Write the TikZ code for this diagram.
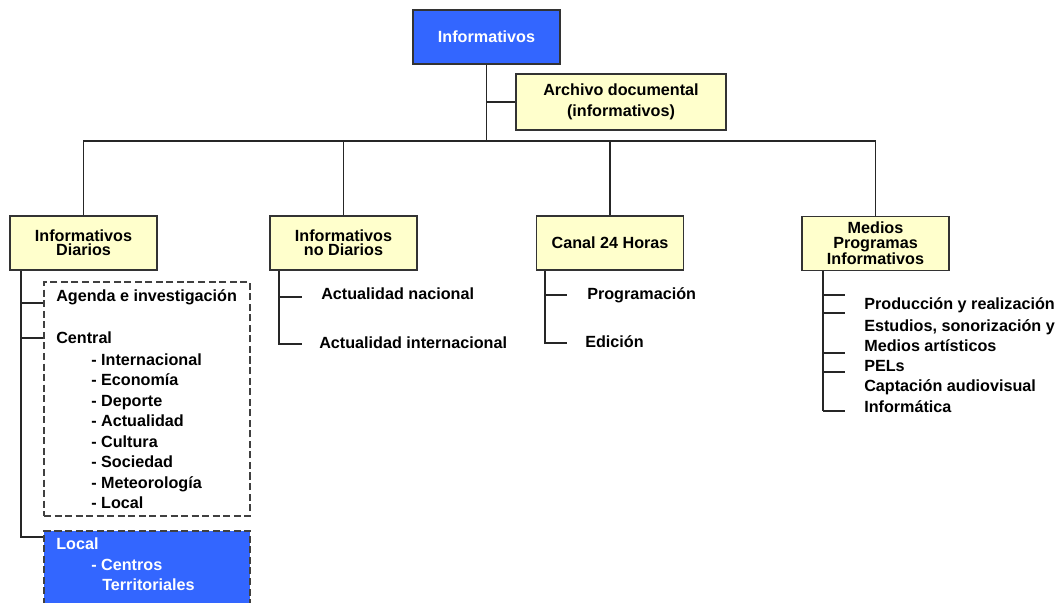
\documentclass[tikz,border=0pt]{standalone}
\usepackage{fontspec}
\setmainfont{Liberation Sans}
\definecolor{azul}{RGB}{51,102,255}
\definecolor{crema}{RGB}{255,255,204}
\tikzset{
  caja/.style={draw=black!80, line width=0.9pt, fill=crema, align=center, inner sep=0pt,
    minimum width=3.675cm, minimum height=1.35cm, font=\bfseries\fontsize{11.5}{10}\selectfont},
  item/.style={anchor=base west, inner sep=0pt, font=\bfseries\fontsize{11.5}{14}\selectfont},
  rama/.style={line width=0.9pt, black!85},
  trazos/.style={draw=black!75, line width=0.9pt, dash pattern=on 5pt off 2.5pt},
}
\begin{document}
\begin{tikzpicture}[x=0.025cm, y=-0.025cm]
    \useasboundingbox (0,0) rectangle (1064,603);
    % cabecera
    \node[caja, fill=azul, text=white] (top) at (486.5,37) {Informativos};
    \node[caja, minimum width=5.25cm, minimum height=1.4cm, font=\bfseries\fontsize{11.5}{15}\selectfont] (arch) at (621,102) {Archivo documental\\(informativos)};
    \node[caja] (diar) at (83.5,243) {Informativos\\Diarios};
    \node[caja] (nodi) at (343.5,243) {Informativos\\no Diarios};
    \node[caja] (c24) at (610,243) {Canal 24 Horas};
    \node[caja, font=\bfseries\fontsize{11.5}{10.2}\selectfont] (medi) at (875.5,243.5) {Medios\\Programas\\Informativos};
    \coordinate (bus) at (0,141);
    \draw[rama] (top.south) -- (top.south |- bus);
    \draw[rama] (top.south |- arch.west) -- (arch.west);
    \draw[rama] (diar.north) -- (diar.north |- bus) -- (medi.north |- bus) -- (medi.north);
    \draw[rama] (nodi.north) -- (nodi.north |- bus);
    \draw[rama] (c24.north) -- (c24.north |- bus);
    % informativos diarios
    \node[trazos, minimum width=5.15cm, minimum height=5.85cm, inner sep=0pt] (agen) at (147,399) {};
    \node[trazos, fill=azul, minimum width=5.15cm, minimum height=2cm, inner sep=0pt] (loca) at (147,571) {};
    \node[item] (ag) at (56,302) {Agenda e investigación};
    \node[item] (ce) at (56,343) {Central};
    \foreach \t [count=\i] in {Internacional,Economía,Deporte,Actualidad,Cultura,Sociedad,Meteorología,Local}
        \node[item] (ce\i) at (91,344.5+20.5*\i) {- \t};
    \node[item, text=white] (lo) at (56,549) {Local};
    \node[item, text=white] (lo1) at (91,570) {- Centros};
    \node[item, text=white] (lo2) at (102,590) {Territoriales};
    \draw[rama] (21,0 |- diar.south) -- (21,537) -- (21,537 -| loca.west);
    \draw[rama] (21,303) -- (21,303 -| agen.west);
    \draw[rama] (21,338) -- (21,338 -| agen.west);
    % informativos no diarios
    \node[item] (an) at (321,300) {Actualidad nacional};
    \node[item] (ai) at (319,348) {Actualidad internacional};
    \draw[rama] (279,0 |- nodi.south) -- (279,344) -- (302,344);
    \draw[rama] (279,297) -- (302,297);
    % canal 24 horas
    \node[item] (pr) at (587,299) {Programación};
    \node[item] (ed) at (585,347) {Edición};
    \draw[rama] (545,0 |- c24.south) -- (545,343) -- (567,343);
    \draw[rama] (545,295) -- (567,295);
    % medios
    \node[item] (m1) at (864,310) {Producción y realización};
    \node[item] (m2) at (864,331) {Estudios, sonorización y};
    \node[item] (m3) at (864,351) {Medios artísticos};
    \node[item] (m4) at (864,371) {PELs};
    \node[item] (m5) at (864,391) {Captación audiovisual};
    \node[item] (m6) at (864,412) {Informática};
    \draw[rama] (823,0 |- medi.south) -- (823,411);
    \foreach \y in {295,313,353,372,411}
        \draw[rama] (823,\y) -- (845,\y);
\end{tikzpicture}
\end{document}
